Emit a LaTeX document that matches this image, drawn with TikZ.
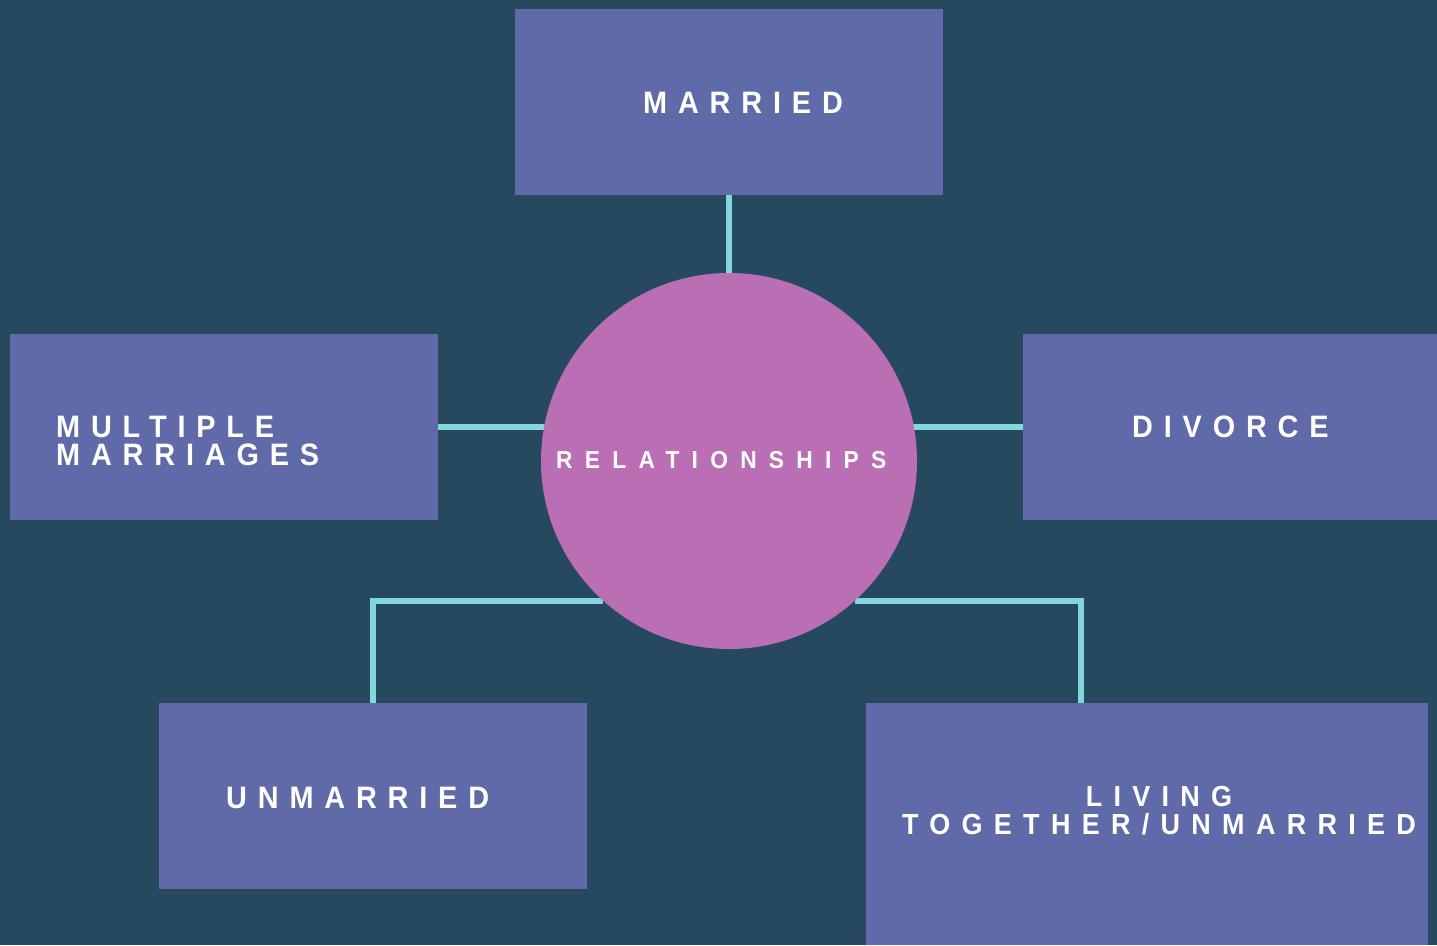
\documentclass[tikz,border=0pt]{standalone}
\usepackage{fontspec}
\newfontfamily\lblfont{Liberation Sans Bold}[FakeStretch=0.93,LetterSpace=35]
\newfontfamily\livfont{Liberation Sans Bold}[FakeStretch=0.93,LetterSpace=39]
\newfontfamily\relfont{Liberation Sans Bold}[FakeStretch=0.93,LetterSpace=50]
\definecolor{bgc}{RGB}{39,73,95}
\definecolor{boxc}{RGB}{96,106,168}
\definecolor{circc}{RGB}{186,111,181}
\definecolor{linec}{RGB}{130,215,222}
\pgfdeclarelayer{bglayer}
\pgfdeclarelayer{linelayer}
\pgfsetlayers{bglayer,linelayer,main}
\tikzset{
  box/.style={fill=boxc,draw=none,inner sep=0pt,rectangle},
  lbl/.style={text=white,inner sep=0pt,font=\lblfont\fontsize{31}{28}\selectfont},
  lbllive/.style={text=white,inner sep=0pt,font=\livfont\fontsize{29}{28}\selectfont},
  lblsmall/.style={text=white,inner sep=0pt,font=\relfont\fontsize{24.5}{28}\selectfont},
  conn/.style={draw=linec,line width=5.5pt}
}
\begin{document}
\begin{tikzpicture}[x=1pt,y=-1pt]
\begin{pgfonlayer}{bglayer}
\fill[bgc] (0,0) rectangle (1437,945);
\end{pgfonlayer}
\useasboundingbox (0,0) rectangle (1437,945);
% boxes
\node[box,minimum width=428pt,minimum height=186pt] (married) at (729,102) {};
\node[box,minimum width=428pt,minimum height=186pt] (multi) at (224,427) {};
\node[box,minimum width=414pt,minimum height=186pt] (divorce) at (1230,427) {};
\node[box,minimum width=428pt,minimum height=186pt] (unmarried) at (373,796) {};
\node[box,minimum width=562pt,minimum height=242pt] (living) at (1147,824) {};
% circle
\node[circle,fill=circc,minimum size=376pt,inner sep=0pt] (rel) at (729,461) {};
% texts
\node[lbl,anchor=west] (tmarried) at (643,103) {MARRIED};
\node[lbl,anchor=west,align=left] (tmulti) at (56,441) {MULTIPLE\\MARRIAGES};
\node[lblsmall,anchor=west] (trel) at (556,460) {RELATIONSHIPS};
\node[lbl,anchor=west] (tdivorce) at (1132,427) {DIVORCE};
\node[lbl,anchor=west] (tunmarried) at (226,798) {UNMARRIED};
\node[lbllive,align=center] (tliving) at (1159,811) {LIVING\\TOGETHER/UNMARRIED};
\coordinate (livtop) at (1081,703);
% connectors
\begin{pgfonlayer}{linelayer}
\draw[conn] (married.south) -- (rel.north);
\draw[conn] (multi.east) -- (rel.center |- multi.east);
\draw[conn] (divorce.west) -- (rel.center |- divorce.west);
\draw[conn] (unmarried.north) |- (rel.-132);
\draw[conn] (livtop) |- (rel.-48);
\end{pgfonlayer}
\end{tikzpicture}
\end{document}
